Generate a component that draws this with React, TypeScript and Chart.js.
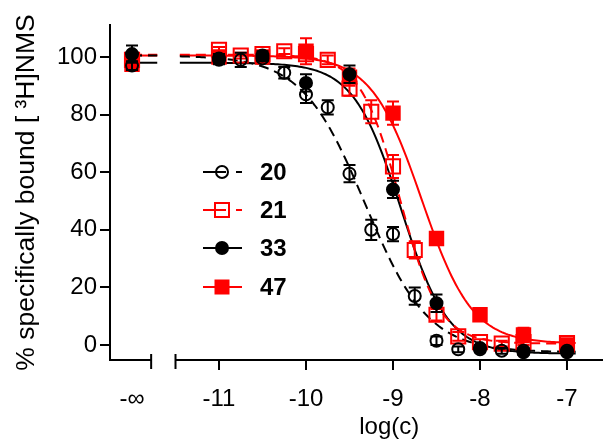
import React, { useEffect, useRef } from "react";
import { Chart, registerables } from "chart.js";

Chart.register(...registerables);

// Log axis: the ligand-free control ("-∞") sits left of an axis break
const CONTROL_POS = -12;
const AXIS_MIN = -12.253;
const AXIS_MAX = -6.586;
const BREAK_START = -11.78;
const BREAK_END = -11.5;
const Y_MIN = -5.2;
const Y_MAX = 111.1;

const xTickValues = [-12, -11, -10, -9, -8, -7];
const yTickValues = [0, 20, 40, 60, 80, 100];

// log(c) of the competitor concentrations
const logCQuarter = [-11, -10.75, -10.5, -10.25, -10, -9.75, -9.5, -9.25, -9, -8.75, -8.5, -8.25, -8, -7.75, -7.5, -7];
const logCHalf = [-11, -10.5, -10, -9.5, -9, -8.5, -8, -7.5, -7];

// compound 20 (mean, SEM)
const ctrl20 = 97;
const ctrlSem20 = 1.5;
const bound20 = [99.5, 99, 99.5, 94.5, 87, 82.5, 59.5, 40, 38.5, 17, 1.5, -1.5, -1.5, -2, -2, -2];
const sem20 = [1.5, 2.5, 1, 2, 3, 2.5, 3, 3.5, 2.5, 3, 1.5, 1, 1, 1, 1, 1];

// compound 21
const ctrl21 = 99;
const ctrlSem21 = 1;
const bound21 = [102.5, 100.5, 101, 102, 101, 99, 89, 81, 62, 33, 10.5, 3, 1, 0.5, 1, 0.7];
const sem21 = [1, 1, 1, 1, 1.5, 1.5, 2.5, 4, 4, 3, 2, 1.5, 1, 1, 1, 1];

// compound 33
const ctrl33 = 101;
const ctrlSem33 = 3;
const bound33 = [99, 100.5, 91, 94, 54, 14.5, -1, -2.5, -2.5];
const sem33 = [1.5, 1.5, 3, 3, 3, 3, 1, 1, 1];

// compound 47
const ctrl47 = 97.5;
const ctrlSem47 = 1.5;
const bound47 = [100, 100, 102, 93, 80.5, 37, 10.5, 3.5, 0];
const sem47 = [1.5, 1.5, 4.5, 3, 4, 2, 1.5, 2.5, 1];

// Four-parameter logistic fits: [bottom, top, logIC50, Hill slope]
const fit20 = [-2.5, 100.5, -9.32, 1.2];
const fit21 = [0.5, 100.8, -8.92, 1.9];
const fit33 = [-3, 98, -8.91, 1.6];
const fit47 = [0.5, 100.5, -8.67, 1.5];

const RED = "#ff0000";
const BLACK = "#000000";
const FONT_FAMILY = "'Liberation Sans', Arial, Helvetica, sans-serif";
const X_TITLE = "log(c)";

const logistic = (p: number[], x: number) => p[0] + (p[1] - p[0]) / (1 + Math.pow(10, (x - p[2]) * p[3]));

const curveLogC: number[] = [];
for (let v = -11.45; v <= -6.9 + 1e-9; v += 0.025) curveLogC.push(v);

const curvePoints = (p: number[]) => curveLogC.map((x) => ({ x, y: logistic(p, x) }));
const plateauPoints = (p: number[]) => [
  { x: CONTROL_POS, y: p[1] },
  { x: -11.71, y: p[1] },
];

const markerSet = (
  label: string,
  xs: number[],
  ys: number[],
  errs: number[],
  ctrl: number,
  ctrlErr: number,
  color: string,
  style: "circle" | "rect",
  filled: boolean,
  radius: number
) => ({
  label,
  data: [{ x: CONTROL_POS, y: ctrl }, ...xs.map((x, i) => ({ x, y: ys[i] }))],
  errorBars: [ctrlErr, ...errs],
  showLine: false,
  pointStyle: style,
  pointRadius: radius,
  pointBorderWidth: 2,
  pointBorderColor: color,
  pointBackgroundColor: filled ? color : "rgba(0,0,0,0)",
  borderColor: color,
  backgroundColor: color,
});

const lineSet = (label: string, pts: { x: number; y: number }[], color: string, dashed: boolean) => ({
  label,
  data: pts,
  showLine: true,
  pointRadius: 0,
  borderColor: color,
  borderWidth: 2,
  borderDash: dashed ? [10, 6] : [],
  fill: false,
});

// Error bars are drawn right before each dataset's markers
const errorBarPlugin = {
  id: "errorBars",
  beforeDatasetDraw(chart: any, args: any) {
    const ds = chart.data.datasets[args.index];
    if (!ds.errorBars) return;
    const ctx = chart.ctx;
    const yScale = chart.scales.y;
    ctx.save();
    ctx.strokeStyle = ds.borderColor;
    ctx.lineWidth = 2;
    ctx.setLineDash([]);
    args.meta.data.forEach((el: any, i: number) => {
      const v = ds.data[i].y;
      const e = ds.errorBars[i];
      const top = yScale.getPixelForValue(v + e);
      const bot = yScale.getPixelForValue(v - e);
      ctx.beginPath();
      ctx.moveTo(el.x, top);
      ctx.lineTo(el.x, bot);
      ctx.moveTo(el.x - 6, top);
      ctx.lineTo(el.x + 6, top);
      ctx.moveTo(el.x - 6, bot);
      ctx.lineTo(el.x + 6, bot);
      ctx.stroke();
    });
    ctx.restore();
  },
};

// Broken x axis line with its tick marks, and the axis title centred on the concentration segment
const brokenAxisPlugin = {
  id: "brokenAxis",
  afterDraw(chart: any) {
    const ctx = chart.ctx;
    const xs = chart.scales.x;
    const yAxis = chart.chartArea.bottom;
    const left = chart.chartArea.left;
    const right = chart.chartArea.right;
    const b0 = xs.getPixelForValue(BREAK_START);
    const b1 = xs.getPixelForValue(BREAK_END);
    ctx.save();
    ctx.strokeStyle = BLACK;
    ctx.lineWidth = 2;
    ctx.lineCap = "butt";
    ctx.beginPath();
    ctx.moveTo(left - 1, yAxis);
    ctx.lineTo(b0, yAxis);
    ctx.moveTo(b1, yAxis);
    ctx.lineTo(right, yAxis);
    ctx.moveTo(b0, yAxis - 6);
    ctx.lineTo(b0, yAxis + 9);
    ctx.moveTo(b1, yAxis - 6);
    ctx.lineTo(b1, yAxis + 9);
    xTickValues.forEach((v) => {
      if (v === CONTROL_POS) return;
      const px = xs.getPixelForValue(v);
      ctx.moveTo(px, yAxis);
      ctx.lineTo(px, yAxis + 10);
    });
    ctx.stroke();

    ctx.fillStyle = BLACK;
    ctx.font = `24px ${FONT_FAMILY}`;
    ctx.textAlign = "center";
    ctx.textBaseline = "middle";
    ctx.fillText(X_TITLE, (b1 + right) / 2, yAxis + 67);
    ctx.restore();
  },
};

// In-plot legend: line sample, marker and bold compound number
const legendRows = [
  { text: "20", color: BLACK, style: "circle", filled: false, dashed: true },
  { text: "21", color: RED, style: "rect", filled: false, dashed: true },
  { text: "33", color: BLACK, style: "circle", filled: true, dashed: false },
  { text: "47", color: RED, style: "rect", filled: true, dashed: false },
];
const legendRowY = [172, 210, 248, 287];

const legendPlugin = {
  id: "inPlotLegend",
  afterDraw(chart: any) {
    const ctx = chart.ctx;
    ctx.save();
    legendRows.forEach((row, i) => {
      const y = legendRowY[i];
      const mx = 222;
      ctx.strokeStyle = row.color;
      ctx.lineWidth = 2;
      ctx.beginPath();
      if (row.dashed) {
        ctx.moveTo(203, y);
        ctx.lineTo(226, y);
        ctx.moveTo(236, y);
        ctx.lineTo(242, y);
      } else {
        ctx.moveTo(203, y);
        ctx.lineTo(242, y);
      }
      ctx.stroke();
      ctx.beginPath();
      if (row.style === "circle") {
        ctx.arc(mx, y, 6, 0, Math.PI * 2);
      } else {
        const h = row.filled ? 6.5 : 7;
        ctx.rect(mx - h, y - h, 2 * h, 2 * h);
      }
      if (row.filled) {
        ctx.fillStyle = row.color;
        ctx.fill();
      }
      ctx.stroke();
      ctx.fillStyle = BLACK;
      ctx.font = `bold 24px ${FONT_FAMILY}`;
      ctx.textAlign = "left";
      ctx.textBaseline = "middle";
      ctx.fillText(row.text, 260, y + 1);
    });
    ctx.restore();
  },
};

export default function App() {
  const canvasRef = useRef<HTMLCanvasElement>(null);

  useEffect(() => {
    document.body.style.margin = "0";
    const canvas = canvasRef.current;
    if (!canvas) return;
    const font = { family: FONT_FAMILY, size: 24 };

    const chart = new Chart(canvas, {
      type: "scatter",
      data: {
        datasets: [
          markerSet("33", logCHalf, bound33, sem33, ctrl33, ctrlSem33, BLACK, "circle", true, 6),
          markerSet("20", logCQuarter, bound20, sem20, ctrl20, ctrlSem20, BLACK, "circle", false, 6),
          markerSet("47", logCHalf, bound47, sem47, ctrl47, ctrlSem47, RED, "rect", true, 9.5),
          markerSet("21", logCQuarter, bound21, sem21, ctrl21, ctrlSem21, RED, "rect", false, 10),
          lineSet("fit 20", curvePoints(fit20), BLACK, true),
          lineSet("fit 21", curvePoints(fit21), RED, true),
          lineSet("fit 33", curvePoints(fit33), BLACK, false),
          lineSet("fit 47", curvePoints(fit47), RED, false),
          lineSet("top 20", plateauPoints(fit20), BLACK, true),
          lineSet("top 21", plateauPoints(fit21), RED, true),
          lineSet("top 33", plateauPoints(fit33), BLACK, false),
          lineSet("top 47", plateauPoints(fit47), RED, false),
        ] as any,
      },
      options: {
        responsive: false,
        animation: false,
        devicePixelRatio: 1,
        events: [],
        layout: { autoPadding: false, padding: { top: 25, right: 0, left: 0, bottom: 0 } },
        plugins: { legend: { display: false }, tooltip: { enabled: false } },
        scales: {
          x: {
            type: "linear",
            min: AXIS_MIN,
            max: AXIS_MAX,
            afterBuildTicks: (s: any) => {
              s.ticks = xTickValues.map((v) => ({ value: v }));
            },
            grid: { display: false },
            border: { display: false },
            ticks: {
              font,
              color: BLACK,
              padding: 17,
              maxRotation: 0,
              autoSkip: false,
              callback: (v: any) => (v === CONTROL_POS ? "-∞" : String(v)),
            },
            title: { display: false },
            afterFit: (s: any) => {
              s.height = 81;
              s.paddingLeft = 0;
              s.paddingRight = 0;
            },
          },
          y: {
            type: "linear",
            min: Y_MIN,
            max: Y_MAX,
            afterBuildTicks: (s: any) => {
              s.ticks = yTickValues.map((v) => ({ value: v }));
            },
            grid: { drawOnChartArea: false, drawTicks: true, tickLength: 10, color: BLACK, lineWidth: 2 },
            border: { display: true, color: BLACK, width: 2 },
            ticks: { font, color: BLACK, padding: 3 },
            title: {
              display: true,
              text: "% specifically bound [ ³H]NMS",
              font: { family: FONT_FAMILY, size: 26.5 },
              color: BLACK,
              padding: { top: 11, bottom: 0 },
            },
            afterFit: (s: any) => {
              s.width = 110;
              s.paddingTop = 0;
              s.paddingBottom = 0;
            },
          },
        },
      },
      plugins: [errorBarPlugin, brokenAxisPlugin, legendPlugin],
    } as any);

    return () => chart.destroy();
  }, []);

  return (
    <div style={{ width: 603, height: 441 }}>
      <canvas ref={canvasRef} width={603} height={441} />
    </div>
  );
}
